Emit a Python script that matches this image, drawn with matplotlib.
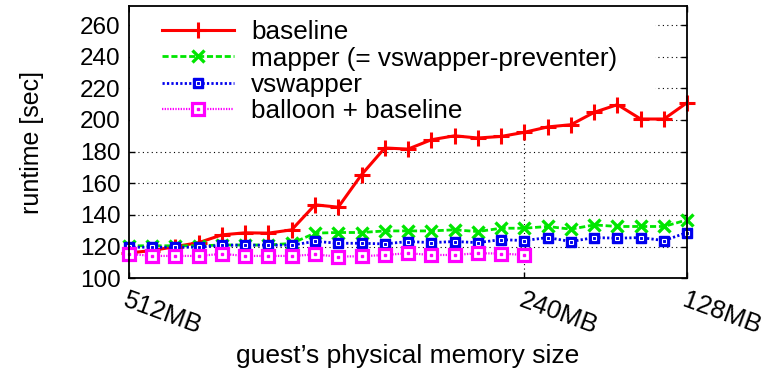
import numpy as np
import matplotlib.pyplot as plt
from matplotlib.patches import Rectangle
from matplotlib.legend_handler import HandlerTuple

plt.rcParams['font.family'] = ['Liberation Sans', 'DejaVu Sans']

# guest memory (MB), one point every 16MB from 512 down to 128
mem = np.arange(512, 127, -16)
tick_pos = [512, 240, 128]
tick_lbl = ['512MB', '240MB', '128MB']

baseline = [116, 117.5, 120, 122.5, 127.4, 128.7, 128.5, 130.6, 146.4, 144.9,
            165.4, 182.3, 181.6, 187.5, 190, 188.6, 189.6, 192.2, 195.6, 197,
            204.8, 209.7, 200.6, 200.6, 211]
mapper = [120.5, 120.5, 120.5, 120.5, 121, 121, 121, 122, 128.5, 128.9,
          128.9, 129.9, 129.9, 129.9, 130.6, 129.5, 131.6, 131.6, 132.7, 131,
          133.7, 132.7, 132.7, 132.7, 136.9]
vswapper = [119.6, 119.6, 119.6, 119.6, 120.9, 120.9, 120.9, 120.9, 123.3, 122.1,
            122.1, 121.7, 123.2, 122.5, 123.2, 122.5, 124.4, 123.8, 125.7, 123.2,
            125.7, 125.3, 125.7, 123.8, 128.9]
balloon = [115.4, 114.1, 114.1, 114.1, 115.4, 114.1, 114.1, 114.1, 115, 113.7,
           113.9, 114.7, 115.8, 114.7, 114.7, 115.8, 115.6, 114.7]

fig = plt.figure(figsize=(7.67, 3.76), dpi=100)
ax = fig.add_axes([0.168, 0.260, 0.728, 0.724])

l1, = ax.plot(mem, baseline, color='#ff0000', lw=2.2, marker='+', ms=11, mew=2.2,
              clip_on=False, zorder=3)
l2, = ax.plot(mem, mapper, color='#00e600', lw=2.0, ls=(0, (2.2, 1.0)), marker='x',
              ms=8.5, mew=2.4, clip_on=False, zorder=4)
l3, = ax.plot(mem, vswapper, color='#0000ee', lw=2.0, ls=(0, (0.8, 0.8)), marker='s',
              ms=7, mfc='#0000ee', mec='#0000ee', clip_on=False, zorder=5)
l3b, = ax.plot(mem, vswapper, ls='none', marker='s', ms=2.6, mfc='#0000ee', mec='white',
               mew=0.8, clip_on=False, zorder=5.1)
nb = len(balloon)
l4, = ax.plot(mem[:nb], balloon, color='#ff00ff', lw=1.6, ls=(0, (0.6, 0.6)), marker='s',
              ms=8.3, mfc='white', mec='#ff00ff', mew=2.3, clip_on=False, zorder=6)
l4b, = ax.plot(mem[:nb], balloon, ls='none', marker='s', ms=1.8, mfc='#ff00ff',
               mec='#ff00ff', clip_on=False, zorder=6.1)

ax.set_xlim(512, 128)
ax.set_ylim(100, 272)
ax.set_yticks(np.arange(100, 261, 20))
ax.set_xticks(tick_pos)
ax.set_xticklabels(tick_lbl, rotation=-20, ha='left', va='top', rotation_mode='anchor')
ax.tick_params(axis='both', direction='in', length=4, width=1, labelsize=17.5,
               top=True, right=True)
ax.tick_params(axis='x', pad=7, labelsize=18.5)
ax.tick_params(axis='y', pad=6)
for s in ax.spines.values():
    s.set_linewidth(1.3)
    s.set_zorder(8)

ax.grid(axis='y', color='black', ls=(0, (1, 3)), lw=0.8)
ax.axvline(240, color='black', ls=(0, (1, 3)), lw=0.8, zorder=0.5)
ax.set_axisbelow(True)

# opaque key box (hides the grid behind the legend)
ax.add_patch(Rectangle((0.002, 0.567), 0.94, 0.433, transform=ax.transAxes,
                       facecolor='white', edgecolor='none', zorder=2))

ax.set_ylabel('runtime [sec]', fontsize=18, labelpad=26)
ax.set_xlabel('guest\u2019s physical memory size', fontsize=19, labelpad=4)

leg = ax.legend([l1, l2, (l3, l3b), (l4, l4b)],
                ['baseline', 'mapper (= vswapper-preventer)', 'vswapper', 'balloon + baseline'],
                handler_map={tuple: HandlerTuple(ndivide=1)},
                loc='upper left', bbox_to_anchor=(0.059, 0.948), fontsize=18.8,
                handlelength=2.75, handletextpad=0.66, labelspacing=0.09,
                borderpad=0.0, borderaxespad=0.0, frameon=False)
leg.set_zorder(10)

fig.savefig('out.png', dpi=100)
